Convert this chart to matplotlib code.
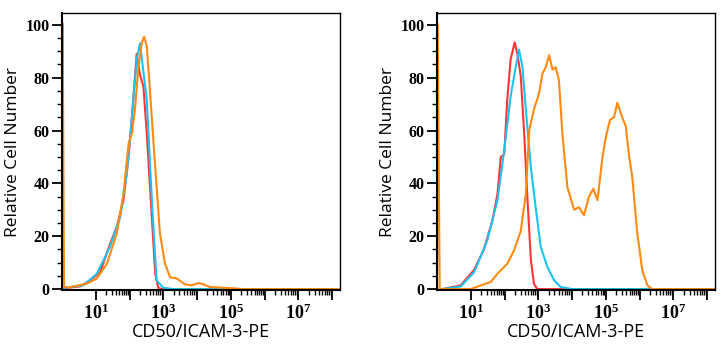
import matplotlib
matplotlib.use('Agg')
import matplotlib.pyplot as plt
from matplotlib.ticker import FixedLocator, FixedFormatter, NullFormatter
import numpy as np

plt.rcParams['mathtext.default'] = 'regular'

# log10 of fluorescence intensity vs relative cell number (%)
# Left panel
left_red_x = [0.05, 0.09, 0.54, 0.83, 1.13, 1.42, 1.62, 1.82, 1.97, 2.07, 2.21, 2.31, 2.41, 2.51, 2.66, 2.76, 2.85, 2.95, 8.3]
left_red_y = [0.0, 0.4, 1.0, 3.3, 6.4, 17, 23.5, 33.6, 50, 65, 89, 81, 76.7, 59, 27, 5.8, 0.5, 0.0, 0.0]

left_cyan_x = [0.05, 0.09, 0.63, 1.03, 1.42, 1.72, 1.92, 2.07, 2.21, 2.31, 2.51, 2.66, 2.80, 3.0, 3.3, 8.3]
left_cyan_y = [0.0, 0.5, 1.4, 5.8, 16, 27, 44, 65, 87, 93, 71.5, 33.6, 3.3, 0.5, 0.0, 0.0]

left_orange_x = [0.0, 0.02, 0.06, 0.14, 0.73, 1.03, 1.33, 1.62, 1.82, 1.97, 2.07, 2.16, 2.26, 2.36, 2.43,
                 2.51, 2.61, 2.76, 2.90, 3.05, 3.2, 3.4, 3.64, 3.84, 4.04, 4.19, 4.38, 5.07, 5.37, 8.3]
left_orange_y = [0.0, 100.5, 1.0, 0.5, 2, 4, 9.6, 21, 36, 55, 59, 68, 84, 93, 95.5,
                 92, 74, 46, 21, 9.6, 4.5, 4, 1.8, 1.4, 2.3, 1.8, 0.8, 0.3, 0.0, 0.0]

# Right panel
right_red_x = [0.16, 0.70, 1.1, 1.39, 1.64, 1.79, 1.89, 1.99, 2.08, 2.18, 2.30, 2.38, 2.48, 2.58, 2.68, 2.78, 2.87, 2.97, 8.3]
right_red_y = [0.0, 1.4, 7.3, 15, 26, 36, 50, 51, 71.6, 87, 93.4, 89, 80.5, 59, 33.6, 11, 2, 0.0, 0.0]

right_cyan_x = [0.16, 0.70, 1.1, 1.49, 1.79, 1.99, 2.18, 2.33, 2.43, 2.53, 2.63, 2.78, 2.92, 3.07, 3.27, 3.47, 3.66, 4.0, 8.3]
right_cyan_y = [0.0, 1.0, 6.4, 18.5, 33.6, 52.6, 73, 84, 90.6, 84, 68, 46, 31, 16, 8.3, 3.3, 0.8, 0.0, 0.0]

right_orange_x = [0.0, 0.02, 0.08, 1.0, 1.3, 1.59, 1.79, 2.08, 2.28, 2.48, 2.63, 2.73, 2.87, 3.02, 3.12,
                  3.22, 3.32, 3.42, 3.51, 3.61, 3.71, 3.86, 4.06, 4.2, 4.35, 4.5, 4.63, 4.75, 4.9, 5.0,
                  5.12, 5.24, 5.34, 5.44, 5.59, 5.68, 5.78, 5.93, 6.08, 6.23, 6.37, 8.3]
right_orange_y = [0.0, 100.5, 0.0, 0.0, 1.4, 2.7, 5.8, 9.6, 14.6, 22, 36, 60, 68, 74, 81.5,
                  84, 88.5, 83, 84, 79, 59, 38.6, 30, 31, 28, 35, 38, 33.6, 50, 57.6,
                  64, 65, 70.5, 66.5, 61.5, 51, 42.5, 21, 7, 1.4, 0.0, 0.0]

panels = [
    (left_red_x, left_red_y, left_cyan_x, left_cyan_y, left_orange_x, left_orange_y),
    (right_red_x, right_red_y, right_cyan_x, right_cyan_y, right_orange_x, right_orange_y),
]

fig = plt.figure(figsize=(7.25, 3.5), dpi=100)
ax_lefts = [62 / 725, 437 / 725]
ax_width = 278 / 725
for left, (rx, ry, cx, cy, ox, oy) in zip(ax_lefts, panels):
    ax = fig.add_axes([left, 0.171, ax_width, 0.792])
    ax.plot(10 ** np.array(rx), ry, color='#ff3535', lw=1.5)
    ax.plot(10 ** np.array(cx), cy, color='#1cc3f2', lw=1.5)
    ax.plot(10 ** np.array(ox), oy, color='#ff8a12', lw=1.5)

    ax.set_xscale('log')
    ax.set_xlim(1, 10 ** 8.23)
    ax.set_ylim(-0.4, 104.5)

    majors = [10.0 ** k for k in range(1, 9)]
    ax.xaxis.set_major_locator(FixedLocator(majors))
    ax.xaxis.set_major_formatter(FixedFormatter(
        [r'$10^{%d}$' % k if k % 2 == 1 else '' for k in range(1, 9)]))
    minors = [m * 10.0 ** k for k in range(1, 8) for m in range(2, 10)]
    ax.xaxis.set_minor_locator(FixedLocator(minors))
    ax.xaxis.set_minor_formatter(NullFormatter())

    ax.set_yticks([0, 20, 40, 60, 80, 100])
    ax.set_yticks(np.arange(0, 101, 5), minor=True)

    for lab in ax.get_yticklabels():
        lab.set_fontfamily('Liberation Serif')
        lab.set_fontweight('bold')
        lab.set_fontsize(11.5)
    for lab in ax.get_xticklabels():
        lab.set_fontfamily('Liberation Serif')
        lab.set_fontweight('bold')
        lab.set_fontsize(13)

    ax.tick_params(axis='both', which='major', direction='out', length=7, width=1.3, pad=2)
    ax.tick_params(axis='both', which='minor', direction='out', length=3.5, width=1.0)
    ax.tick_params(axis='x', which='major', pad=3)

    for side in ['left', 'bottom']:
        ax.spines[side].set_linewidth(1.5)
    for side in ['top', 'right']:
        ax.spines[side].set_linewidth(1.0)

    ax.set_ylabel('Relative Cell Number', family='Open Sans', fontsize=12.5, labelpad=3)
    ax.set_xlabel('CD50/ICAM-3-PE', family='Open Sans', fontsize=13, labelpad=0)

fig.savefig('out.png', dpi=100)
